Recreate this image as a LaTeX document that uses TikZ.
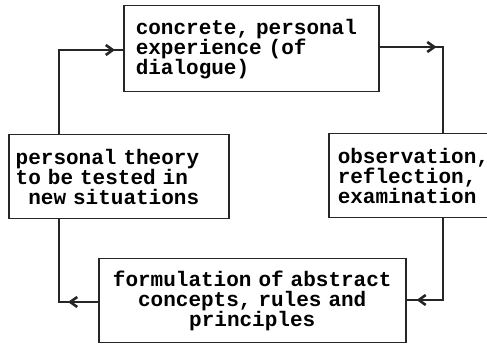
\documentclass[tikz,border=0pt]{standalone}
\usepackage{fontspec}
\newfontfamily\stagefont{Liberation Mono}
\newcommand\stagetype{\stagefont\bfseries\fontsize{21}{20}\selectfont\spaceskip 12.6pt\relax}
\usetikzlibrary{arrows.meta,decorations.markings}
\tikzset{%
  stage/.style={%
    draw=black!85,
    line width=1.5pt,
    anchor=north west,
    inner ysep=2pt,
    minimum height=84pt,
    font=\stagetype
  }
}
\tikzset{%
  cycle flow/.style={%
    draw=black!85,
    line width=1.5pt,
    postaction={decorate},
    decoration={markings,
      mark=at position #1 with {\arrow{Straight Barb[length=7pt,width=10pt,line width=2.6pt]}}}
  }
}

\begin{document}
\begin{tikzpicture}[x=1pt,y=-1pt]
  \useasboundingbox (0,0) rectangle (487,344);
  \node [stage,text width=231pt,inner xsep=12pt,align=left,minimum height=86pt] (exp) at (123,5)
    {concrete, personal\\experience (of\\dialogue)};
  \node [stage,text width=206pt,inner xsep=7pt,align=left] (theory) at (8,134)
    {personal theory\\to be tested in\\\hspace*{0.6em}new situations};
  \node [stage,text width=155pt,inner xsep=9pt,align=left] (obs) at (328,133)
    {observation,\\reflection,\\examination};
  \node [stage,text width=293pt,inner xsep=7pt,align=center] (form) at (98,258)
    {formulation of abstract\\concepts, rules and\\principles};
  \coordinate (tl) at (59,50);
  \coordinate (tr) at (443,47);
  \coordinate (br) at (443,300);
  \coordinate (bl) at (59,302);
  \draw [cycle flow=-8pt] (tl |- theory.north) -- (tl) -- (exp.west |- tl);
  \draw [cycle flow=57pt] (exp.east |- tr) -- (tr) -- (tr |- obs.north);
  \draw [cycle flow=-10pt] (tr |- obs.south) -- (br) -- (form.east |- br);
  \draw [cycle flow=30pt] (form.west |- bl) -- (bl) -- (bl |- theory.south);
\end{tikzpicture}
\end{document}
